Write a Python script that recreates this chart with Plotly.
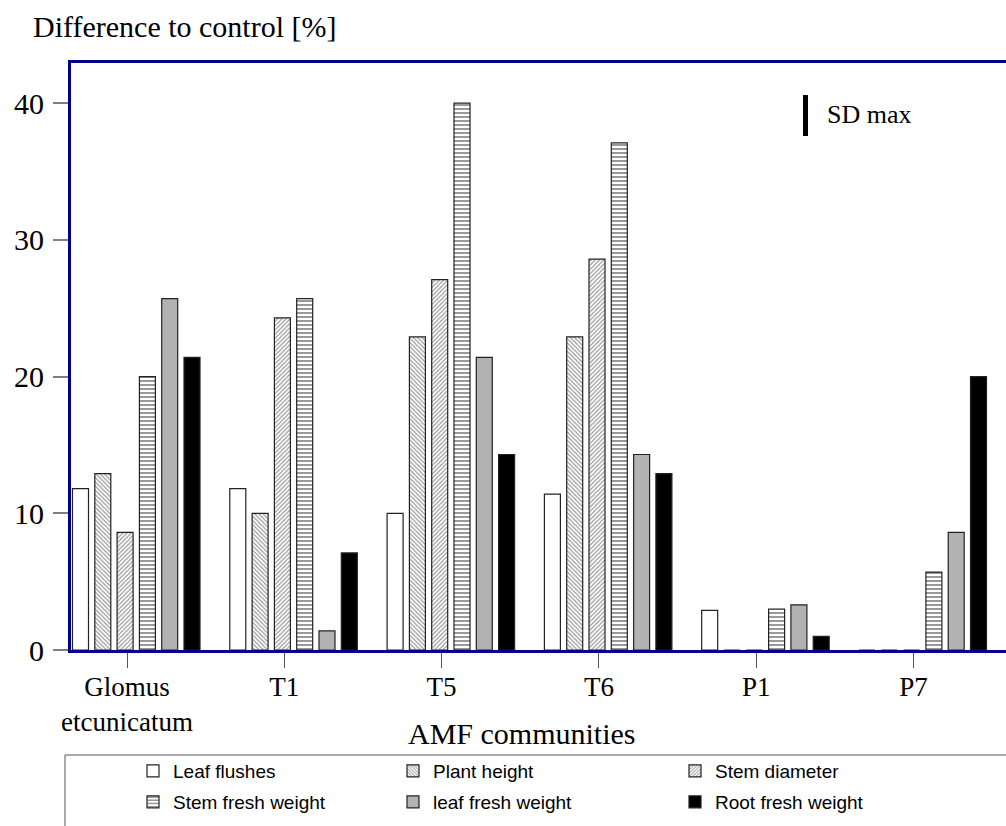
import plotly.graph_objects as go

# ---- data ----
categories = ["Glomus<br>etcunicatum", "T1", "T5", "T6", "P1", "P7"]
series_names = ["Leaf flushes", "Plant height", "Stem diameter",
                "Stem fresh weight", "leaf fresh weight", "Root fresh weight"]
leaf_flushes = [11.8, 11.8, 10.0, 11.4, 2.9, 0.0]
plant_height = [12.9, 10.0, 22.9, 22.9, 0.0, 0.0]
stem_diameter = [8.6, 24.3, 27.1, 28.6, 0.0, 0.0]
stem_fresh_weight = [20.0, 25.7, 40.0, 37.1, 3.0, 5.7]
leaf_fresh_weight = [25.7, 1.4, 21.4, 14.3, 3.3, 8.6]
root_fresh_weight = [21.4, 7.1, 14.3, 12.9, 1.0, 20.0]
series_values = [leaf_flushes, plant_height, stem_diameter,
                 stem_fresh_weight, leaf_fresh_weight, root_fresh_weight]
y_ticks = [0, 10, 20, 30, 40]

# ---- styles ----
styles = [
    dict(color="white", pattern=None),
    dict(color="white", pattern=dict(shape="\\", fgcolor="#333333", bgcolor="white", size=3, solidity=0.4)),
    dict(color="white", pattern=dict(shape="/", fgcolor="#333333", bgcolor="white", size=3, solidity=0.4)),
    dict(color="white", pattern=dict(shape="-", fgcolor="black", bgcolor="white", size=4, solidity=0.4)),
    dict(color="#b2b2b2", pattern=None),
    dict(color="black", pattern=None),
]

W, H = 1006, 826
L, R, T, B = 71, 0, 63, 176
plot_w = W - L - R
plot_h = H - T - B
cat_px = 157.3
x_lo = -56.0 / cat_px
x_hi = x_lo + plot_w / cat_px
pitch = 22.3 / cat_px
bar_w = 16.0 / cat_px
first_left = -54.5 / cat_px


def px_x(x):
    return (x - L) / plot_w


def px_y(y):
    return (H - B - y) / plot_h


# legend slots (pixel positions of each legend entry: x of box left, y of row centre)
legend_cols = [133, 393, 675]
legend_rows = [771, 802]

fig = go.Figure()
xs = list(range(len(categories)))
legend_layouts = {}
for k, (name, vals, st) in enumerate(zip(series_names, series_values, styles)):
    marker = dict(color=st["color"], line=dict(color="#222222", width=1.2))
    if st["pattern"] is not None:
        marker["pattern"] = st["pattern"]
    lg = "legend" if k == 0 else f"legend{k + 1}"
    fig.add_trace(go.Bar(
        x=xs, y=vals, name=name,
        offset=first_left + pitch * k, width=bar_w,
        marker=marker, legend=lg,
    ))
    legend_layouts[lg] = dict(
        x=px_x(legend_cols[k % 3]), y=px_y(legend_rows[k // 3]),
        xanchor="left", yanchor="middle",
        font=dict(family="Liberation Sans Narrow, Arial Narrow, Liberation Sans, sans-serif",
                  size=19, color="black"),
        bgcolor="rgba(0,0,0,0)", borderwidth=0,
    )

serif = "Liberation Serif, Times New Roman, serif"
navy = "#000088"

fig.update_layout(
    width=W, height=H,
    margin=dict(l=L, r=R, t=T, b=B, pad=0),
    paper_bgcolor="white", plot_bgcolor="white",
    barmode="overlay",
    showlegend=True,
    xaxis=dict(
        range=[x_lo, x_hi], tickmode="array", tickvals=xs, ticktext=categories,
        showgrid=False, zeroline=False,
        showline=True, linecolor=navy, linewidth=2.5, mirror=True,
        ticks="outside", ticklen=15, tickwidth=1, tickcolor="#555555",
        tickfont=dict(family=serif, size=27, color="black"),
        ticklabelstandoff=-4,
    ),
    yaxis=dict(
        range=[0, 42.94], tickmode="array", tickvals=y_ticks,
        showgrid=False, zeroline=False,
        showline=True, linecolor=navy, linewidth=3, mirror=False,
        ticks="outside", ticklen=15, tickwidth=1.5, tickcolor="#808080",
        tickfont=dict(family=serif, size=30, color="black"),
        ticklabelstandoff=3,
    ),
    annotations=[
        dict(text="Difference to control [%]", xref="paper", yref="paper",
             x=px_x(31), y=px_y(27),
             xanchor="left", yanchor="middle", showarrow=False,
             font=dict(family=serif, size=30, color="black")),
        dict(text="AMF communities", xref="paper", yref="paper",
             x=px_x(522), y=px_y(733),
             xanchor="center", yanchor="middle", showarrow=False,
             font=dict(family=serif, size=30, color="black")),
        dict(text="SD max", xref="paper", yref="paper",
             x=px_x(825), y=px_y(115),
             xanchor="left", yanchor="middle", showarrow=False,
             font=dict(family=serif, size=26, color="black")),
    ],
    shapes=[
        dict(type="line", xref="paper", yref="paper",
             x0=px_x(805.5), x1=px_x(805.5),
             y0=px_y(95), y1=px_y(136),
             line=dict(color="black", width=5)),
        dict(type="rect", xref="paper", yref="paper",
             x0=px_x(65), x1=px_x(1020),
             y0=px_y(840), y1=px_y(755),
             line=dict(color="#555555", width=1), fillcolor="rgba(0,0,0,0)"),
    ],
    **legend_layouts,
)

fig.write_html("out.html", config={"displayModeBar": False},
               post_script="document.body.style.margin='0px';")
